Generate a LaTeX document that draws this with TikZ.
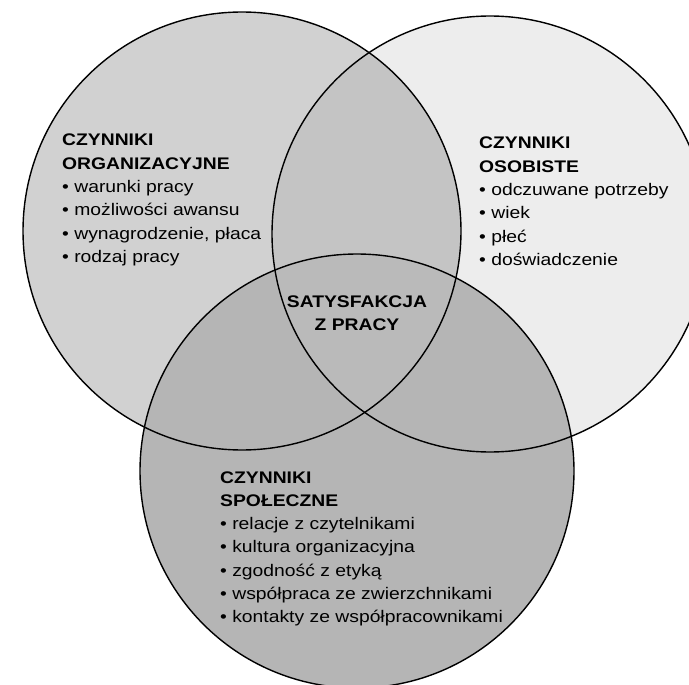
\documentclass[tikz,border=0pt]{standalone}
\usepackage{fontspec}
\setmainfont{Liberation Sans}[FakeStretch=1.15]
\begin{document}
\begin{tikzpicture}[x=1pt,y=-1pt,
  ring/.style={draw=black,line width=1.4pt},
  blocktext/.style={anchor=base west,inner sep=0pt,font=\fontsize{16.8}{23.3}\selectfont},
  midtext/.style={anchor=base,inner sep=0pt,font=\fontsize{16.8}{23.3}\selectfont\bfseries}]
\useasboundingbox (0,0) rectangle (689,685);
\clip (0,0) rectangle (689,685);
\fill[white] (0,0) rectangle (689,685);
\coordinate (cL) at (242,231);
\coordinate (cR) at (490,234);
\coordinate (cB) at (357,471);
% fills
\fill[black!7] (cR) circle[radius=218pt];
\fill[black!18] (cL) circle[radius=219pt];
\begin{scope}
  \clip (cL) circle[radius=219pt];
  \fill[black!23] (cR) circle[radius=218pt];
\end{scope}
\fill[black!29] (cB) circle[radius=217pt];
\begin{scope}
  \clip (cL) circle[radius=219pt];
  \clip (cR) circle[radius=218pt];
  \fill[black!27] (cB) circle[radius=217pt];
\end{scope}
% outlines
\draw[ring] (cL) circle[radius=219pt];
\draw[ring] (cR) circle[radius=218pt];
\draw[ring] (cB) circle[radius=217pt];
% texts
\node[blocktext] (org) at (62,146) {\begin{tabular}[t]{@{}l@{}}\textbf{CZYNNIKI}\\ \textbf{ORGANIZACYJNE}\\ • warunki pracy\\ • możliwości awansu\\ • wynagrodzenie, płaca\\ • rodzaj pracy\end{tabular}};
\node[blocktext] (oso) at (479,149) {\begin{tabular}[t]{@{}l@{}}\textbf{CZYNNIKI}\\ \textbf{OSOBISTE}\\ • odczuwane potrzeby\\ • wiek\\ • płeć\\ • doświadczenie\end{tabular}};
\node[blocktext] (spo) at (220,483) {\begin{tabular}[t]{@{}l@{}}\textbf{CZYNNIKI}\\ \textbf{SPOŁECZNE}\\ • relacje z czytelnikami\\ • kultura organizacyjna\\ • zgodność z etyką\\ • współpraca ze zwierzchnikami\\ • kontakty ze współpracownikami\end{tabular}};
\node[midtext] (sat) at (357,307) {\begin{tabular}[t]{@{}c@{}}SATYSFAKCJA\\ Z PRACY\end{tabular}};
\end{tikzpicture}
\end{document}
